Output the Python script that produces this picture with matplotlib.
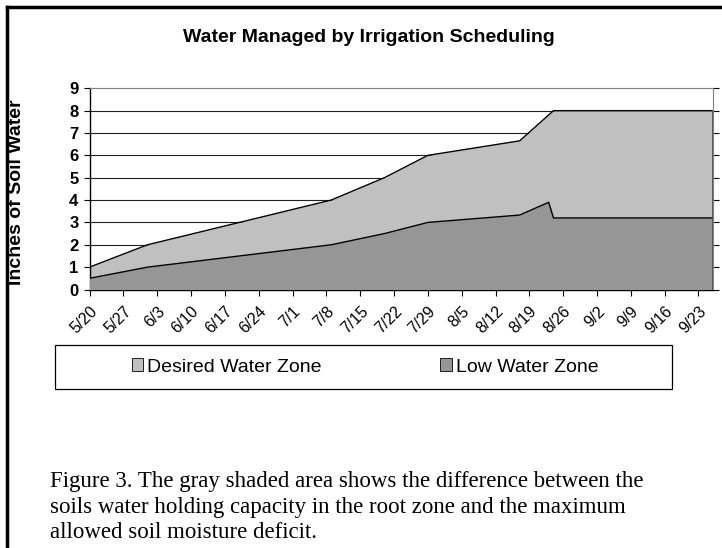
import datetime as dt
import matplotlib
matplotlib.use("Agg")
import matplotlib.pyplot as plt
from matplotlib.patches import Rectangle, Patch
from matplotlib.lines import Line2D

# top of the desired zone (low + desired), inches
top_dates = ["05-20", "06-01", "07-09", "07-20", "07-29", "08-17", "08-24", "09-26"]
top_values = [1.0, 2.0, 4.0, 5.0, 6.0, 6.65, 8.0, 8.0]

# low water zone, inches
low_dates = ["05-20", "06-01", "07-09", "07-20", "07-29", "08-17", "08-23", "08-24", "09-26"]
low_values = [0.5, 1.0, 2.0, 2.5, 3.0, 3.33, 3.9, 3.2, 3.2]

tick_labels = ["5/20", "5/27", "6/3", "6/10", "6/17", "6/24", "7/1", "7/8", "7/15",
               "7/22", "7/29", "8/5", "8/12", "8/19", "8/26", "9/2", "9/9", "9/16", "9/23"]
series_names = ["Desired Water Zone", "Low Water Zone"]

YEAR = 2003


def to_date(s):
    m, d = s.split("-")
    return dt.date(YEAR, int(m), int(d))


def label_to_date(s):
    m, d = s.split("/")
    return dt.date(YEAR, int(m), int(d))


light = "#c0c0c0"
dark = "#969696"
sans = "Liberation Sans"

fig = plt.figure(figsize=(7.22, 5.48), dpi=100)
W, H = 722.0, 548.0

# plot area in pixels
px_l, px_r, px_t, px_b = 89.5, 713, 88.3, 289.5
ax = fig.add_axes([px_l / W, 1 - px_b / H, (px_r - px_l) / W, (px_b - px_t) / H])

td = [to_date(s) for s in top_dates]
ld = [to_date(s) for s in low_dates]

ax.fill_between(td, 0, top_values, color=light, lw=0, zorder=2)
ax.plot(td, top_values, color="black", lw=1.0, zorder=4)
ax.fill_between(ld, 0, low_values, color=dark, lw=0, zorder=3)
ax.plot(ld, low_values, color="black", lw=1.0, zorder=4)
ax.plot([td[-1], td[-1]], [0, top_values[-1]], color="#505050", lw=2, zorder=4)

ax.set_xlim(td[0], td[-1])
ax.set_ylim(0, 9)
ax.set_yticks(range(10))
ax.set_yticklabels([str(i) for i in range(10)], fontsize=12, fontweight="bold", family=sans)
for i in range(1, 9):
    ax.axhline(i, color="#202020", lw=0.8, zorder=1)

ticks = [label_to_date(s) for s in tick_labels]
ax.set_xticks(ticks)
ax.set_xticklabels(tick_labels, rotation=45, ha="right", va="top", rotation_mode="anchor",
                   fontsize=11.5, family=sans)
ax.tick_params(axis="x", direction="out", length=4, width=0.8, pad=6)
ax.tick_params(axis="y", direction="out", length=4, width=0.8, pad=4,
               right=True, labelright=False)

for side in ["top", "right"]:
    ax.spines[side].set_color("#808080")
for side in ["left", "bottom"]:
    ax.spines[side].set_color("black")
    ax.spines[side].set_linewidth(1.0)

fig.text(17 / W, 1 - 192 / H, "Inches of Soil Water", rotation=90, ha="center", va="center",
         fontsize=14, fontweight="bold", family=sans)

fig.text(369 / W, 1 - 37 / H, "Water Managed by Irrigation Scheduling",
         ha="center", va="center", fontsize=14, fontweight="bold", family=sans)

# legend box
fig.patches.append(Rectangle((55 / W, 1 - 389 / H), (672 - 55) / W, (389 - 345) / H,
                             transform=fig.transFigure, fill=False, ec="black", lw=0.9))
handles = [Patch(fc=light, ec="black", lw=0.6), Patch(fc=dark, ec="black", lw=0.6)]
fig.legend(handles, series_names, loc="center", bbox_to_anchor=(365 / W, 1 - 367 / H),
           ncol=2, frameon=False, columnspacing=6.1, handlelength=0.6, handleheight=0.6,
           handletextpad=0.2, prop={"family": sans, "size": 14})

caption = ("Figure 3. The gray shaded area shows the difference between the\n"
           "soils water holding capacity in the root zone and the maximum\n"
           "allowed soil moisture deficit.")
fig.text(50 / W, 1 - 507 / H, caption, ha="left", va="center", fontsize=16.5,
         family="Liberation Serif", linespacing=1.3)

# outer frame (left and top edges)
fig.add_artist(Line2D([7 / W, 7 / W], [0, 1 - 7 / H], transform=fig.transFigure,
                      color="black", lw=2.5))
fig.add_artist(Line2D([7 / W, 1], [1 - 7 / H, 1 - 7 / H], transform=fig.transFigure,
                      color="black", lw=2.5))

fig.savefig("out.png", dpi=100)
